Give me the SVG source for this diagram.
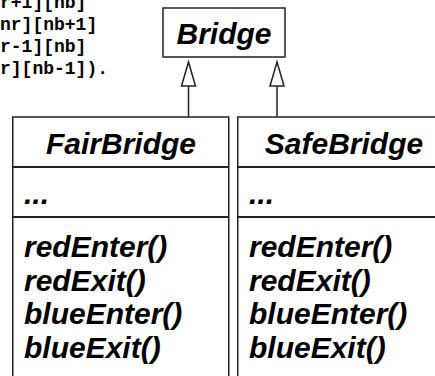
<svg xmlns="http://www.w3.org/2000/svg" width="435" height="376" viewBox="0 0 435 376">
  <style>
    .code { font-family: "Liberation Mono", "Courier New", monospace; font-weight: bold; font-size: 18px; fill: #000; }
    .cls { font-family: "Liberation Sans", Arial, sans-serif; font-weight: bold; font-style: italic; font-size: 30px; fill: #000; }
    .box { fill: #fff; stroke: #222; stroke-width: 1.5; }
    .div { stroke: #222; stroke-width: 2; fill: none; }
    .edge { stroke: #222; stroke-width: 1.5; fill: none; }
    .head { fill: #fff; stroke: #222; stroke-width: 1.5; stroke-linejoin: miter; }
  </style>

  <rect width="435" height="376" fill="#fff"/>

  <!-- guard conditions of the bridge model -->
  <g id="code">
    <text class="code" x="0" y="8">r+1][nb]</text>
    <text class="code" x="0" y="30">nr][nb+1]</text>
    <text class="code" x="0" y="52">r-1][nb]</text>
    <text class="code" x="0" y="74">r][nb-1]).</text>
  </g>

  <!-- inheritance connectors -->
  <g id="connectors">
    <line class="edge" x1="188.5" y1="117" x2="188.5" y2="86"/>
    <polygon class="head" points="188.5,62 181.5,86 195.5,86"/>
    <line class="edge" x1="277" y1="117" x2="277" y2="86"/>
    <polygon class="head" points="277,62 270,86 284,86"/>
  </g>

  <g id="Bridge">
    <rect class="box" x="163" y="8" width="122" height="49"/>
    <text class="cls" x="224" y="44" text-anchor="middle">Bridge</text>
  </g>

  <g id="FairBridge">
    <rect class="box" x="12.75" y="117" width="216" height="270"/>
    <line class="div" x1="12.75" y1="167" x2="228.75" y2="167"/>
    <line class="div" x1="12.75" y1="217" x2="228.75" y2="217"/>
    <text class="cls" x="121" y="154" text-anchor="middle">FairBridge</text>
    <text class="cls" x="24" y="204">...</text>
    <text class="cls" x="24" y="257">redEnter()</text>
    <text class="cls" x="24" y="291">redExit()</text>
    <text class="cls" x="24" y="324">blueEnter()</text>
    <text class="cls" x="24" y="358">blueExit()</text>
  </g>

  <g id="SafeBridge">
    <rect class="box" x="237.75" y="117" width="214" height="270"/>
    <line class="div" x1="237.75" y1="167" x2="451.75" y2="167"/>
    <line class="div" x1="237.75" y1="217" x2="451.75" y2="217"/>
    <text class="cls" x="344" y="154" text-anchor="middle">SafeBridge</text>
    <text class="cls" x="249" y="204">...</text>
    <text class="cls" x="249" y="257">redEnter()</text>
    <text class="cls" x="249" y="291">redExit()</text>
    <text class="cls" x="249" y="324">blueEnter()</text>
    <text class="cls" x="249" y="358">blueExit()</text>
  </g>
</svg>
